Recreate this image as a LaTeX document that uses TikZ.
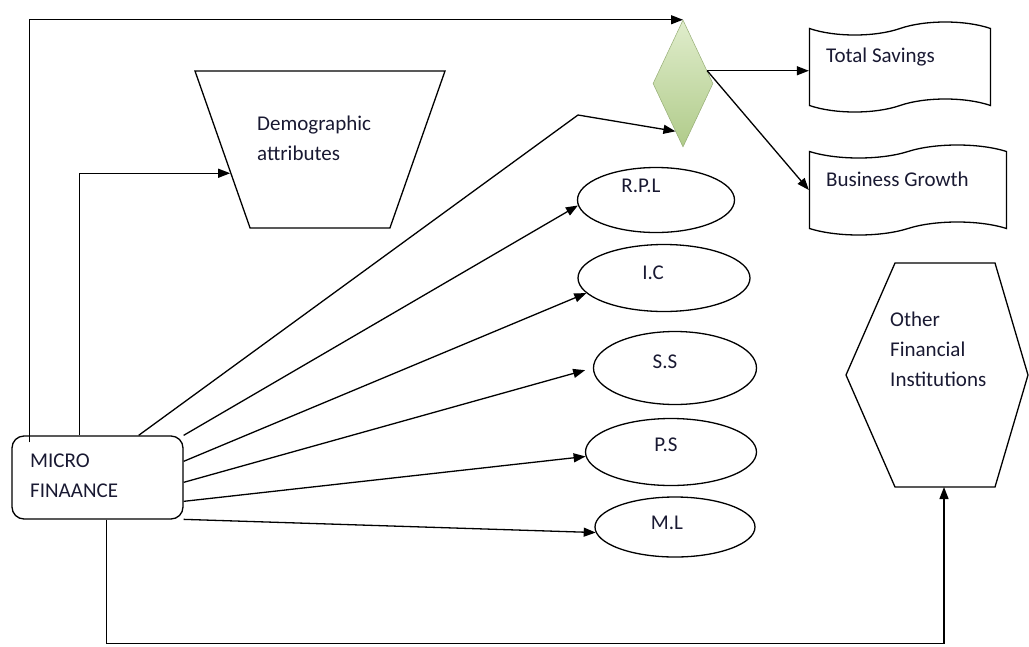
\documentclass[tikz,border=0pt]{standalone}
\usepackage{fontspec}
\setmainfont{Carlito}
\usetikzlibrary{arrows.meta,calc,positioning,shapes.geometric,shapes.symbols}
\definecolor{ink}{RGB}{25,25,50}
\definecolor{leafhi}{RGB}{224,237,204}
\definecolor{leaflo}{RGB}{176,203,138}

\begin{document}
\begin{tikzpicture}[x=1pt,y=-1pt,>={Triangle[length=12pt,width=9pt]},
  box/.style={draw,line width=1.3pt,inner sep=0},
  txt/.style={font=\fontsize{21}{30}\selectfont,text=ink,align=left,inner sep=0},
  link/.style={->,line width=1.3pt}]
\useasboundingbox (0,0) rectangle (1029,646);
% shapes
\node[box,rounded corners=12pt,minimum width=171,minimum height=83] (mf) at (97.5,477.5) {};
\node[box,trapezium,shape border rotate=180,trapezium left angle=68.5,trapezium right angle=68.5,
  trapezium stretches=true,inner sep=2pt,minimum width=250,minimum height=157] (demo) at (320,149.5) {};
\node[diamond,inner sep=0,minimum width=60,minimum height=127,top color=leafhi,bottom color=leaflo,
  draw=leaflo!85!black,line width=0.5pt] (dm) at (683,83.5) {};
\node[box,tape,tape bend top=in and out,tape bend bottom=in and out,tape bend height=13pt,
  minimum width=181,minimum height=90] (ts) at (900,67) {};
\node[box,tape,tape bend top=in and out,tape bend bottom=in and out,tape bend height=13pt,
  minimum width=197,minimum height=90] (bg) at (908,190) {};
\node[box,ellipse,minimum width=157,minimum height=65] (rpl) at (656,200) {};
\node[box,ellipse,minimum width=172,minimum height=67] (ic) at (664,278) {};
\node[box,ellipse,minimum width=163,minimum height=73] (ss) at (675,368) {};
\node[box,ellipse,minimum width=171,minimum height=67] (ps) at (671,452) {};
\node[box,ellipse,minimum width=160,minimum height=60] (ml) at (675,527) {};
\draw[line width=1.3pt] (895,263) -- (995,263) -- (1028,375) -- (995,487) -- (895,487) -- (846,375) -- cycle;
\coordinate (ofib) at (944,487);
\coordinate (dmr) at ($(dm.north)!0.8!(dm.east)$);
% texts
\node[txt,anchor=west] (mftext) at (30,476) {MICRO\\FINAANCE};
\node[txt,anchor=west] (demotext) at (257,138) {Demographic\\attributes};
\node[txt,anchor=west] (tstext) at (826,57) {Total Savings};
\node[txt,anchor=west] (bgtext) at (826,179) {Business Growth};
\node[txt,anchor=west] (ofitext) at (890,349) {Other\\Financial\\Institutions};
\node[txt] (rpltext) at (641,186) {R.P.L};
\node[txt] (ictext) at (653,273) {I.C};
\node[txt] (sstext) at (665,362) {S.S};
\node[txt] (pstext) at (666,445) {P.S};
\node[txt] (mltext) at (667,523) {M.L};
% connectors
\draw[link] ($(mf.north west)+(18,7)$) |- (dm.north);
\draw[link] ($(mf.north west)+(68,0)$) |- ($(demo.top right corner)!0.35!(demo.bottom right corner)$);
\draw[link] ($(mf.north east)+(-45,0)$) -- (578,115) -- ($(dm.west)!0.75!(dm.south)$);
\draw[link] (mf.north east) -- (rpl.184);
\draw[link] ($(mf.north east)+(0,26)$) -- (ic.191);
\draw[link,shorten >=8pt] ($(mf.north east)+(0,47)$) -- (ss.west);
\draw[link] ($(mf.north east)+(0,66)$) -- (ps.183);
\draw[link] ($(mf.north east)+(0,84)$) -- (ml.184);
\draw[link] ($(mf.south west)+(95,0)$) -- ++(0,124) -| (ofib);
\draw[link] (dmr) -- (dmr -| ts.west);
\draw[link] (dmr) -- (bg.west);
\end{tikzpicture}
\end{document}
